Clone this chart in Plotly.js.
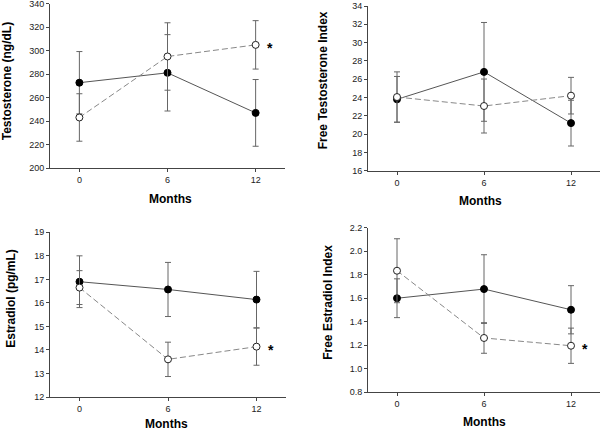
<!DOCTYPE html>
<html>
<head>
<meta charset="utf-8">
<script src="https://cdn.plot.ly/plotly-3.0.1.min.js"></script>
<style>html,body{margin:0;padding:0;background:#fff}#chart{width:601px;height:431px}</style>
</head>
<body>
<div id="chart"></div>
<script>
// ---- data ----
const months = [0, 6, 12];

const testoFilled = [272.6, 281.0, 246.9];
const testoFilledErr = [26.5, 32.5, 28.4];
const testoOpen = [243.0, 294.9, 304.8];
const testoOpenErr = [20.2, 28.7, 20.6];

const ftiFilled = [23.8, 26.8, 21.2];
const ftiFilledErr = [2.5, 5.4, 2.5];
const ftiOpen = [24.05, 23.07, 24.2];
const ftiOpenErr = [2.75, 2.95, 2.0];

const e2Filled = [16.9, 16.57, 16.14];
const e2FilledErr = [1.1, 1.15, 1.2];
const e2Open = [16.65, 13.6, 14.14];
const e2OpenErr = [0.72, 0.73, 0.79];

const feiFilled = [1.60, 1.678, 1.502];
const feiFilledErr = [0.165, 0.292, 0.205];
const feiOpen = [1.834, 1.262, 1.196];
const feiOpenErr = [0.272, 0.13, 0.15];

const yTitles = ["Testosterone (ng/dL)", "Free Testosterone Index", "Estradiol (pg/mL)", "Free Estradiol Index"];
const xTitle = "Months";
const sigMark = "*";
// which panels show significance at 12 months (on the open series)
const sigPanels = [true, false, true, true];

// ---- styling / layout ----
const FONT = "Arial, 'Liberation Sans', Helvetica, sans-serif";
const lineFilled = "#555";
const lineOpen = "#888";
const errColor = "#666";

function pair(axisIdx, yF, eF, yO, eO) {
  const xa = axisIdx === 1 ? "x" : "x" + axisIdx;
  const ya = axisIdx === 1 ? "y" : "y" + axisIdx;
  const filled = {
    x: months, y: yF, xaxis: xa, yaxis: ya, type: "scatter", mode: "lines+markers",
    line: {color: lineFilled, width: 1},
    marker: {size: 7, color: "#000", line: {color: "#000", width: 1}},
    error_y: {type: "data", array: eF, visible: true, color: errColor, thickness: 1, width: 3},
    showlegend: false, hoverinfo: "x+y"
  };
  const open = {
    x: months, y: yO, xaxis: xa, yaxis: ya, type: "scatter", mode: "lines+markers",
    line: {color: lineOpen, width: 1, dash: "6px,3px"},
    marker: {size: 7, color: "#fff", line: {color: "#222", width: 1}},
    error_y: {type: "data", array: eO, visible: true, color: errColor, thickness: 1, width: 3},
    showlegend: false, hoverinfo: "x+y"
  };
  return [filled, open];
}

const data = [
  ...pair(1, testoFilled, testoFilledErr, testoOpen, testoOpenErr),
  ...pair(2, ftiFilled, ftiFilledErr, ftiOpen, ftiOpenErr),
  ...pair(3, e2Filled, e2FilledErr, e2Open, e2OpenErr),
  ...pair(4, feiFilled, feiFilledErr, feiOpen, feiOpenErr)
];

const W = 601, H = 431;
const px = v => v / W;
const py = v => 1 - v / H;

const baseX = {
  range: [-2, 14], tickvals: months, ticktext: months.map(String),
  showline: true, linecolor: "#444", linewidth: 1, ticks: "outside", ticklen: 3,
  tickcolor: "#444", showgrid: false, zeroline: false, ticklabeloverflow: "allow",
  tickfont: {family: FONT, size: 9, color: "#222"}, fixedrange: true
};
function baseY(range, dtick, fmt) {
  return {
    range: range, dtick: dtick, tick0: range[0], tickformat: fmt || "",
    showline: true, linecolor: "#444", linewidth: 1, ticks: "outside", ticklen: 3,
    tickcolor: "#444", showgrid: false, zeroline: false, ticklabeloverflow: "allow",
    tickfont: {family: FONT, size: 9, color: "#222"}, fixedrange: true
  };
}

const layout = {
  width: W, height: H,
  margin: {l: 0, r: 0, t: 0, b: 0},
  paper_bgcolor: "#fff", plot_bgcolor: "#fff",
  font: {family: FONT, color: "#000"},
  xaxis:  Object.assign({}, baseX, {domain: [px(50), px(285)], anchor: "y"}),
  yaxis:  Object.assign(baseY([200, 340], 20), {domain: [py(168), py(3.5)], anchor: "x"}),
  xaxis2: Object.assign({}, baseX, {domain: [px(368), px(600)], anchor: "y2"}),
  yaxis2: Object.assign(baseY([16, 34], 2), {domain: [py(170.7), py(6)], anchor: "x2"}),
  xaxis3: Object.assign({}, baseX, {domain: [px(50), px(286)], anchor: "y3"}),
  yaxis3: Object.assign(baseY([12, 19], 1), {domain: [py(397), py(232.3)], anchor: "x3"}),
  xaxis4: Object.assign({}, baseX, {domain: [px(368), px(600)], anchor: "y4"}),
  yaxis4: Object.assign(baseY([0.8, 2.2], 0.2, ".1f"), {domain: [py(392.3), py(227.7)], anchor: "x4"}),
  annotations: []
};

const titleFont = {family: FONT, size: 12, color: "#000", weight: "bold"};
const yTitlePos = [[6.8, 81.5], [323.3, 80], [11.5, 298.3], [327.3, 302.5]];
const xTitlePos = [[170, 199.3], [480.5, 201], [166.7, 423.5], [484.7, 421.7]];
yTitles.forEach((t, i) => {
  layout.annotations.push({
    text: "<b>" + t + "</b>", xref: "paper", yref: "paper",
    x: px(yTitlePos[i][0]), y: py(yTitlePos[i][1]), xanchor: "center", yanchor: "middle",
    textangle: -90, showarrow: false, font: titleFont
  });
  layout.annotations.push({
    text: "<b>" + xTitle + "</b>", xref: "paper", yref: "paper",
    x: px(xTitlePos[i][0]), y: py(xTitlePos[i][1]), xanchor: "center", yanchor: "middle",
    showarrow: false, font: titleFont
  });
});

const openSeries = [testoOpen, ftiOpen, e2Open, feiOpen];
sigPanels.forEach((on, i) => {
  if (!on) return;
  const k = i + 1;
  layout.annotations.push({
    text: "<b>" + sigMark + "</b>",
    xref: k === 1 ? "x" : "x" + k, yref: k === 1 ? "y" : "y" + k,
    x: months[months.length - 1] + 0.95, y: openSeries[i][months.length - 1],
    xanchor: "center", yanchor: "middle", yshift: -3,
    showarrow: false, font: {family: FONT, size: 14, color: "#000"}
  });
});

Plotly.newPlot("chart", data, layout, {staticPlot: true, displayModeBar: false});
</script>
</body>
</html>
